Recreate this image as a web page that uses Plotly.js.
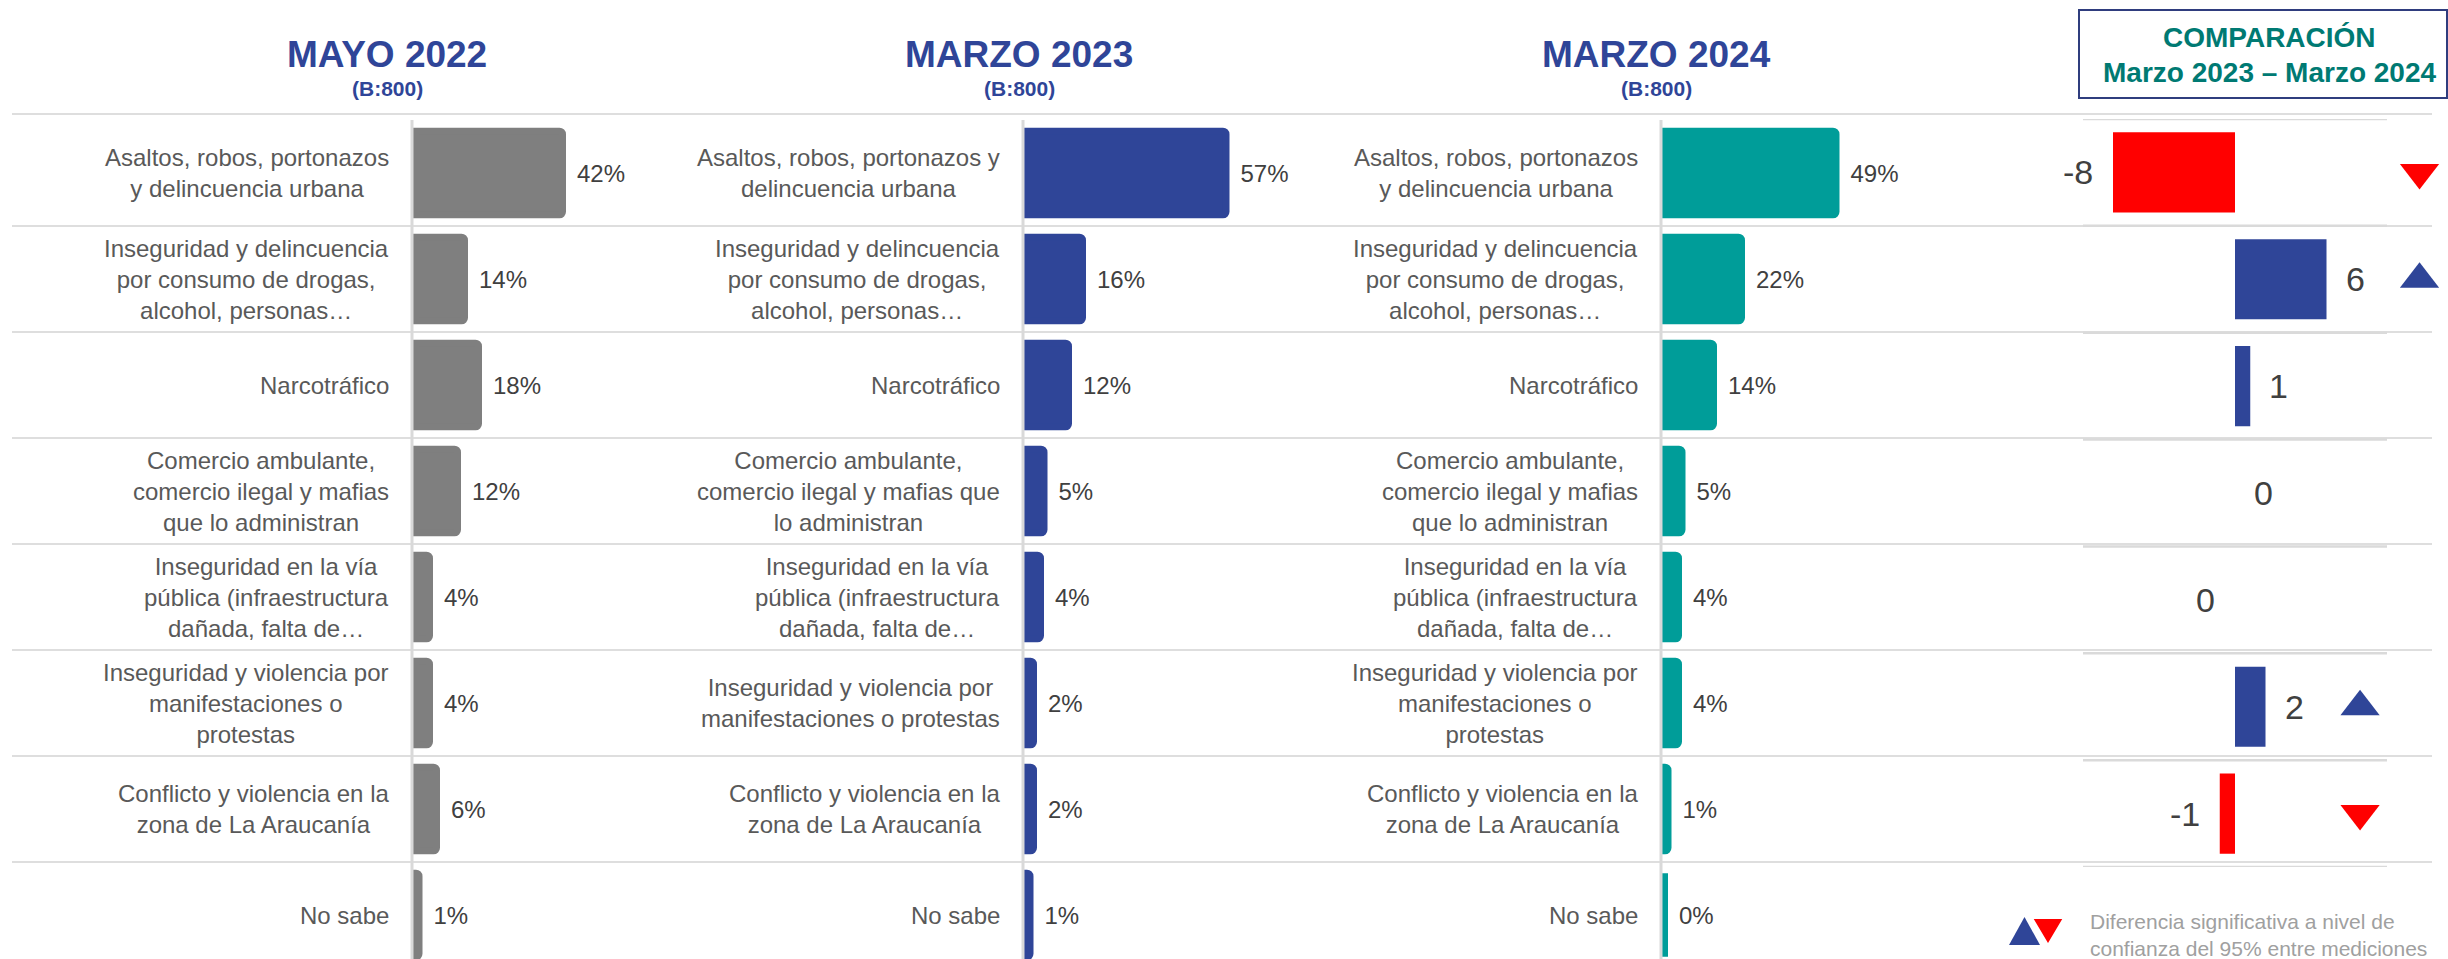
<!DOCTYPE html>
<html>
<head>
<meta charset="utf-8">
<script src="https://cdn.plot.ly/plotly-3.0.1.min.js"></script>
<style>
  html, body { margin: 0; padding: 0; background: #fff; overflow: hidden; }
  #chart { width: 2448px; height: 959px; }
</style>
</head>
<body>
<div id="chart"></div>
<script>
// data
const categories = [
    "Asaltos, robos, portonazos y delincuencia urbana",
    "Inseguridad y delincuencia por consumo de drogas, alcohol, personas…",
    "Narcotráfico",
    "Comercio ambulante, comercio ilegal y mafias que lo administran",
    "Inseguridad en la vía pública (infraestructura dañada, falta de…",
    "Inseguridad y violencia por manifestaciones o protestas",
    "Conflicto y violencia en la zona de La Araucanía",
    "No sabe"
];
// tick labels as wrapped on the slide (panels 1 and 3 / panel 2)
const labelsA = [
    "Asaltos, robos, portonazos<br>y delincuencia urbana",
    "Inseguridad y delincuencia<br>por consumo de drogas,<br>alcohol, personas…",
    "Narcotráfico",
    "Comercio ambulante,<br>comercio ilegal y mafias<br>que lo administran",
    "Inseguridad en la vía<br>pública (infraestructura<br>dañada, falta de…",
    "Inseguridad y violencia por<br>manifestaciones o<br>protestas",
    "Conflicto y violencia en la<br>zona de La Araucanía",
    "No sabe"
];
const labelsB = [
    "Asaltos, robos, portonazos y<br>delincuencia urbana",
    "Inseguridad y delincuencia<br>por consumo de drogas,<br>alcohol, personas…",
    "Narcotráfico",
    "Comercio ambulante,<br>comercio ilegal y mafias que<br>lo administran",
    "Inseguridad en la vía<br>pública (infraestructura<br>dañada, falta de…",
    "Inseguridad y violencia por<br>manifestaciones o protestas",
    "Conflicto y violencia en la<br>zona de La Araucanía",
    "No sabe"
];
const mayo2022 = [42, 14, 18, 12, 4, 4, 6, 1];
const marzo2023 = [57, 16, 12, 5, 4, 2, 2, 1];
const marzo2024 = [49, 22, 14, 5, 4, 4, 1, 0];
// comparison Marzo 2023 - Marzo 2024 (-0: small negative shown as 0)
const diff = [-8, 6, 1, 0, -0, 2, -1];
const signif = ["down", "up", "", "", "", "up", "down"];
const panelTitles = ["MAYO 2022", "MARZO 2023", "MARZO 2024"];
const baseText = "(B:800)";
const compTitle = "COMPARACIÓN";
const compSub = "Marzo 2023 – Marzo 2024";
const footnote = "Diferencia significativa a nivel de<br>confianza del 95% entre mediciones";

const W = 2448, H = 959;
const px = x => x / W;
const py = y => 1 - y / H;

const FONT = "Liberation Sans, Arial, sans-serif";
const BLUE = "#2F4598";
const RED = "#FF0000";
const GRID = "#D3D3D3";

// layout helpers
const PXU = 3.5;          // pixels per percent point
const ROW = 106;          // row height
const TOP = 120;          // top of the bar area
const compCats = categories.slice(0, diff.length);
const sigMarkerX = [12.1, 12.1, 0, 0, 0, 8.2, 8.2];

const panels = [
    {vals: mayo2022, color: "#7F7F7F", labels: labelsA, left: 412, titleX: 387},
    {vals: marzo2023, color: BLUE, labels: labelsB, left: 1023, titleX: 1019},
    {vals: marzo2024, color: "#009D99", labels: labelsA, left: 1661, titleX: 1656}
];

let traces = [];
let layout = {
    width: W, height: H,
    margin: {l: 0, r: 0, t: 0, b: 0},
    paper_bgcolor: "#fff",
    plot_bgcolor: "rgba(0,0,0,0)",
    showlegend: false,
    font: {family: FONT},
    shapes: [],
    annotations: []
};

panels.forEach(function (p, i)
{
    let sfx = i === 0 ? "" : String(i + 1);
    traces.push({
        type: "bar",
        orientation: "h",
        x: p.vals,
        y: categories,
        xaxis: "x" + sfx,
        yaxis: "y" + sfx,
        width: 0.79,
        marker: {color: p.color, line: {color: p.color, width: 7}, cornerradius: 3},
        text: p.vals.map(v => "\u00a0\u2009" + v + "%"),
        textposition: "outside",
        textfont: {family: FONT, size: 24, color: "#404040"},
        cliponaxis: false
    });

    layout["xaxis" + sfx] = {
        domain: [px(p.left), px(p.left + 81 * PXU)],
        range: [-1, 80],
        visible: false,
        anchor: "y" + sfx
    };
    layout["yaxis" + sfx] = {
        domain: [0, py(TOP)],
        type: "category",
        categoryarray: categories,
        range: [-0.5 + (H - TOP) / ROW, -0.5],
        visible: false,
        anchor: "x" + sfx
    };

    // axis line
    layout.shapes.push({
        type: "line", xref: "paper", yref: "paper",
        x0: px(p.left), x1: px(p.left), y0: 0, y1: py(TOP),
        line: {color: "#D9D9D9", width: 3}, layer: "above"
    });

    // titles
    layout.annotations.push({
        xref: "paper", yref: "paper", x: px(p.titleX), y: py(54),
        xanchor: "center", yanchor: "middle", showarrow: false,
        text: panelTitles[i],
        font: {family: FONT, size: 37, color: BLUE, weight: 700}
    });
    layout.annotations.push({
        xref: "paper", yref: "paper", x: px(p.titleX), y: py(88),
        xanchor: "center", yanchor: "middle", showarrow: false,
        text: baseText,
        font: {family: FONT, size: 21, color: BLUE, weight: 700}
    });

    // row labels
    categories.forEach(function (c, k)
    {
        layout.annotations.push({
            xref: "x" + sfx, yref: "y" + sfx, x: -1, y: c,
            xanchor: "right", yanchor: "middle", xshift: -21,
            align: "center", showarrow: false,
            text: p.labels[k],
            font: {family: FONT, size: 24, color: "#595959"}
        });
    });
});

// row separators across the whole slide
layout.shapes.push({
    type: "line", xref: "paper", yref: "paper",
    x0: px(12), x1: px(2432), y0: py(114), y1: py(114),
    line: {color: GRID, width: 1.5}, layer: "below"
});
for (let k = 0; k < categories.length - 1; k++)
{
    layout.shapes.push({
        type: "line", xref: "paper", yref: "y",
        x0: px(12), x1: px(2432), y0: k + 0.5, y1: k + 0.5,
        line: {color: GRID, width: 1.5}, layer: "below"
    });
}

// comparison panel
const isNeg = v => v < 0 || Object.is(v, -0);
traces.push({
    type: "bar",
    orientation: "h",
    x: diff,
    y: compCats,
    xaxis: "x4",
    yaxis: "y4",
    width: 0.75,
    marker: {color: diff.map(v => isNeg(v) ? RED : BLUE)},
    cliponaxis: false
});

let sigIdx = signif.map((s, k) => s ? k : -1).filter(k => k >= 0);
traces.push({
    type: "scatter",
    mode: "markers",
    x: sigIdx.map(k => sigMarkerX[k]),
    y: sigIdx.map(k => compCats[k]),
    xaxis: "x4",
    yaxis: "y4",
    marker: {
        symbol: sigIdx.map(k => signif[k] === "up" ? "triangle-up" : "triangle-down"),
        color: sigIdx.map(k => signif[k] === "up" ? BLUE : RED),
        size: 34
    },
    cliponaxis: false
});

const ZERO = 2235, CPX = 15.25;
layout.xaxis4 = {
    domain: [px(2083), px(2440)],
    range: [(2083 - ZERO) / CPX, (2440 - ZERO) / CPX],
    visible: false,
    anchor: "y4"
};
layout.yaxis4 = {
    domain: [py(867), py(119)],
    type: "category",
    categoryarray: compCats,
    range: [compCats.length - 0.5, -0.5],
    visible: false,
    anchor: "x4"
};

for (let k = 0; k <= compCats.length; k++)
{
    layout.shapes.push({
        type: "line", xref: "paper", yref: "y4",
        x0: px(2083), x1: px(2387), y0: k - 0.5, y1: k - 0.5,
        line: {color: "#DADADA", width: 2.5}, layer: "below"
    });
}

diff.forEach(function (v, k)
{
    let neg = isNeg(v);
    layout.annotations.push({
        xref: "x4", yref: "y4", x: v, y: compCats[k],
        xanchor: neg ? "right" : "left", yanchor: "middle",
        xshift: neg ? -18 : 17, showarrow: false,
        text: String(v),
        font: {family: FONT, size: 34, color: "#404040"}
    });
});

// comparison header box
layout.shapes.push({
    type: "rect", xref: "paper", yref: "paper",
    x0: px(2079), x1: px(2447), y0: py(98), y1: py(10),
    line: {color: "#2F3D7E", width: 2}, fillcolor: "rgba(0,0,0,0)"
});
layout.annotations.push({
    xref: "paper", yref: "paper", x: px(2269), y: py(38),
    xanchor: "center", yanchor: "middle", showarrow: false,
    text: compTitle,
    font: {family: FONT, size: 28, color: "#007A73", weight: 700}
});
layout.annotations.push({
    xref: "paper", yref: "paper", x: px(2269), y: py(72),
    xanchor: "center", yanchor: "middle", showarrow: false,
    text: compSub,
    font: {family: FONT, size: 28, color: "#007A73", weight: 700}
});

// significance key
function tri(points)
{
    return "M " + points.map(p => px(p[0]) + "," + py(p[1])).join(" L ") + " Z";
}
layout.shapes.push({
    type: "path", xref: "paper", yref: "paper",
    path: tri([[2009, 945], [2040, 945], [2024.5, 917]]),
    fillcolor: BLUE, line: {width: 0}
});
layout.shapes.push({
    type: "path", xref: "paper", yref: "paper",
    path: tri([[2032, 918], [2064, 918], [2048, 945]]),
    fillcolor: RED, line: {color: "#fff", width: 2}
});
layout.annotations.push({
    xref: "paper", yref: "paper", x: px(2088), y: py(935),
    xanchor: "left", yanchor: "middle", align: "left", showarrow: false,
    text: footnote,
    font: {family: FONT, size: 21, color: "#A0A0A0"}
});

Plotly.newPlot("chart", traces, layout, {staticPlot: true, displayModeBar: false});
</script>
</body>
</html>
